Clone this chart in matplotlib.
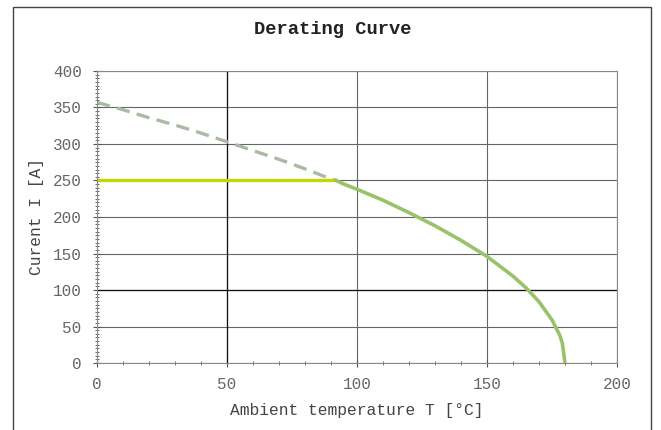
import matplotlib
matplotlib.use('Agg')
import matplotlib.pyplot as plt
from matplotlib.patches import Rectangle
from matplotlib.ticker import MultipleLocator

# values
temp = [0, 10, 20, 30, 40, 50, 60, 70, 80, 90, 92]
current_ext = [357, 347, 336, 326, 315, 303, 291, 279, 266, 252, 250]
temp_rated = [92, 95, 100, 110, 120, 130, 140, 150, 160, 165, 170, 175, 178, 179, 180]
current_rated = [250, 245, 238, 223, 206, 188, 168, 146, 119, 103, 84, 59, 38, 27, 0]
limit_x = [0, 92]
limit_y = [250, 250]
# grid lines that are drawn darker in the original
dark_grid_x = [50]
dark_grid_y = [100]

plt.rcParams['font.family'] = ['Liberation Mono', 'DejaVu Sans Mono']

fig = plt.figure(figsize=(6.61, 4.30), dpi=100)
ax = fig.add_axes([0.1467, 0.1558, 0.7867, 0.6791])

for gx in dark_grid_x:
    ax.axvline(gx, color='#111111', lw=0.9, zorder=0.6)
for gy in dark_grid_y:
    ax.axhline(gy, color='#111111', lw=0.9, zorder=0.6)

ax.plot(temp, current_ext, color='#a9bba3', lw=2.4, ls=(0, (4, 2.2)))
ax.plot(limit_x, limit_y, color='#c5d600', lw=2.4, solid_capstyle='butt')
ax.plot(temp_rated, current_rated, color='#98c36a', lw=2.6)

ax.set_xlim(0, 200)
ax.set_ylim(0, 400)
ax.xaxis.set_major_locator(MultipleLocator(50))
ax.xaxis.set_minor_locator(MultipleLocator(10))
ax.yaxis.set_major_locator(MultipleLocator(50))
ax.yaxis.set_minor_locator(MultipleLocator(5))
ax.grid(True, which='major', color='#666666', lw=0.8)
ax.set_axisbelow(True)
ax.tick_params(which='both', direction='inout', colors='#555555', labelcolor='#666666', labelsize=11.5)
ax.tick_params(which='major', length=6, width=0.8)
ax.tick_params(which='minor', length=3, width=0.6)
ax.tick_params(axis='y', which='major', pad=8)
ax.tick_params(axis='x', which='major', pad=7)
for s in ax.spines.values():
    s.set_color('#888888')
    s.set_linewidth(0.8)

fig.text(0.504, 0.932, 'Derating Curve', fontsize=13.5, fontweight='bold', color='#222222',
         ha='center', va='center')
ax.set_xlabel('Ambient temperature T [°C]', fontsize=11.7, color='#444444', labelpad=8)
ax.set_ylabel('Curent I [A]', fontsize=11.7, color='#444444', labelpad=6)

fig.patches.append(Rectangle((0.02, -0.02), 0.965, 1.004, transform=fig.transFigure,
                             fill=False, edgecolor='#444444', lw=1.0))

fig.savefig('out.png', dpi=100)
